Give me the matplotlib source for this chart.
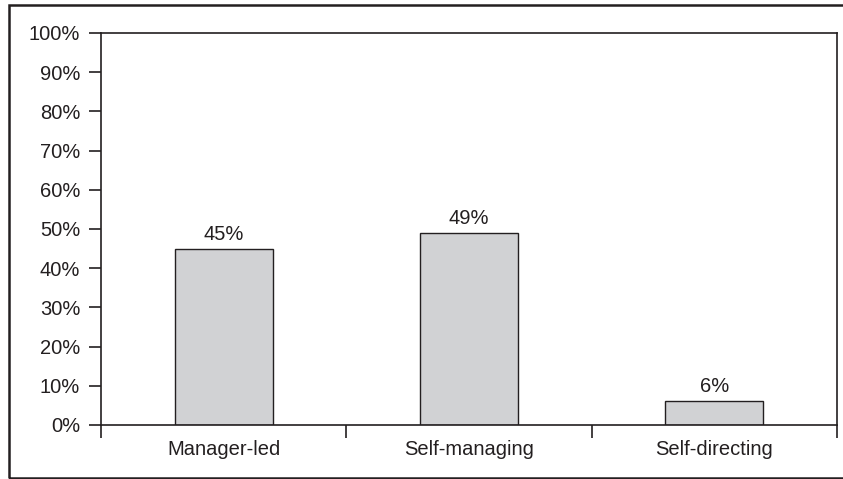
import matplotlib
matplotlib.use("Agg")
import matplotlib.pyplot as plt
from matplotlib.patches import Rectangle
import numpy as np

# data
categories = ["Manager-led", "Self-managing", "Self-directing"]
shares = [45, 49, 6]
y_ticks = list(range(0, 101, 10))

TEXT = "#231f20"
BAR = "#d1d2d4"
FS = 14.5

plt.rcParams["font.family"] = ["Liberation Sans", "DejaVu Sans"]

fig = plt.figure(figsize=(8.43, 4.79), dpi=100)
ax = fig.add_axes([101 / 843, 54 / 479, 736 / 843, 392 / 479])

x = np.arange(len(categories))
ax.bar(x, shares, width=0.4, color=BAR, edgecolor=TEXT, linewidth=1.0, zorder=2)

for xi, v in zip(x, shares):
    ax.text(xi, v + 1.3, f"{v}%", ha="center", va="bottom", fontsize=FS, color=TEXT)

ax.set_xlim(-0.5, len(categories) - 0.5)
ax.set_ylim(0, 100)
ax.set_yticks(y_ticks)
ax.set_yticklabels([f"{t}%" for t in y_ticks], fontsize=FS, color=TEXT)

# ticks on category boundaries, labels centred
ax.set_xticks(np.arange(len(categories) + 1) - 0.5)
ax.set_xticklabels([])
ax.set_xticks(x, minor=True)
ax.set_xticklabels(categories, minor=True, fontsize=FS, color=TEXT)
ax.tick_params(axis="x", which="minor", length=0, pad=11)
ax.tick_params(axis="both", which="major", direction="out", length=9, width=1.2, color=TEXT)
ax.tick_params(axis="y", pad=6)

for s in ax.spines.values():
    s.set_color(TEXT)
    s.set_linewidth(1.2)

# outer frame around the whole chart (right edge runs off the picture)
fig.patches.append(Rectangle((9 / 843, 1.5 / 479), 850 / 843, 472.5 / 479,
                             transform=fig.transFigure, fill=False,
                             edgecolor=TEXT, linewidth=1.8))

fig.savefig("out.png", dpi=100)
